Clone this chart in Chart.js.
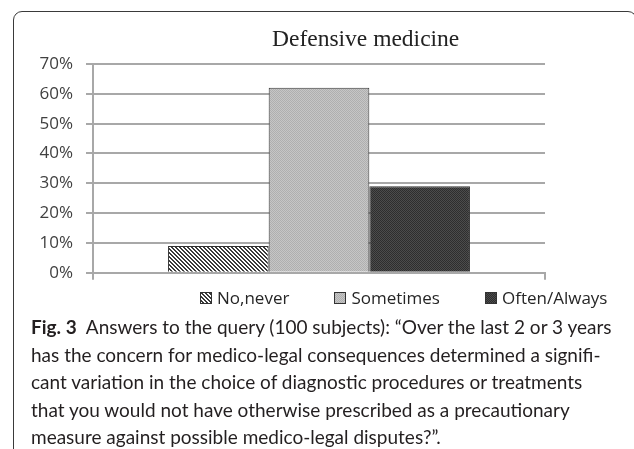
<!DOCTYPE html>
<html>
<head>
<meta charset="utf-8">
<title>Defensive medicine</title>
<script src="https://cdn.jsdelivr.net/npm/chart.js@4"></script>
<style>
    html, body {
        margin: 0;
        padding: 0;
        background: #fff;
        overflow: hidden;
    }
    #page {
        position: relative;
        width: 634px;
        height: 449px;
        overflow: hidden;
    }
    #frame {
        position: absolute;
        left: 13px;
        top: 11px;
        width: 622px;
        height: 500px;
        border: 1.5px solid #3a3a3a;
        border-radius: 9px;
    }
    #chart {
        position: absolute;
        left: 0;
        top: 0;
    }
    #chartTitle {
        position: absolute;
        left: 272px;
        top: 26px;
        font-family: 'Liberation Serif', serif;
        font-size: 23.5px;
        line-height: 24px;
        color: #222;
        white-space: nowrap;
    }
    #legend {
        position: absolute;
        left: 200px;
        top: 288px;
        display: flex;
        gap: 45px;
        font-family: 'Open Sans', sans-serif;
        font-size: 17px;
        line-height: 20px;
        color: #262626;
        white-space: nowrap;
    }
    #legend .item {
        display: flex;
        align-items: center;
    }
    #legend canvas {
        margin-right: 5px;
    }
    #caption {
        position: absolute;
        left: 31px;
        top: 313px;
        font-family: 'Lato', sans-serif;
        font-size: 19px;
        line-height: 27.5px;
        color: #231f20;
        white-space: nowrap;
    }
</style>
</head>
<body>
<div id="page">
    <div id="frame"></div>
    <canvas id="chart" width="634" height="296"></canvas>
    <div id="chartTitle">Defensive medicine</div>
    <div id="legend"></div>
    <div id="caption">
        <div><b>Fig. 3</b>&nbsp; Answers to the query (100 subjects): “Over the last 2 or 3 years</div>
        <div>has the concern for medico-legal consequences determined a signifi-</div>
        <div>cant variation in the choice of diagnostic procedures or treatments</div>
        <div>that you would not have otherwise prescribed as a precautionary</div>
        <div>measure against possible medico-legal disputes?”.</div>
    </div>
</div>

<script>
// Chart data
const categories = [''];
const seriesNames = ['No,never', 'Sometimes', 'Often/Always'];
const seriesValues = [9, 62, 29];
const tickLabels = ['0%', '10%', '20%', '30%', '40%', '50%', '60%', '70%'];
const fillKinds = ['hatch', 'light', 'dark'];

// Small tiles used as bar fills
function makePattern(ctx, kind) {
    const tile = document.createElement('canvas');
    tile.width = 4;
    tile.height = 4;
    const t = tile.getContext('2d');

    if (kind === 'hatch') {
        t.fillStyle = '#ffffff';
        t.fillRect(0, 0, 4, 4);
        t.fillStyle = '#3a3a3a';
        for (let i = 0; i < 4; i++) {
            t.fillRect(i, i, 1, 1);
            t.fillRect((i + 1) % 4, i, 1, 1);
        }
    } else {
        // fine checker texture
        const [a, b] = kind === 'light' ? ['#c6c6c6', '#afafaf'] : ['#4c4c4c', '#2e2e2e'];
        for (let y = 0; y < 4; y++) {
            for (let x = 0; x < 4; x++) {
                t.fillStyle = (x + y) % 2 ? a : b;
                t.fillRect(x, y, 1, 1);
            }
        }
    }
    return ctx.createPattern(tile, 'repeat');
}

// Legend boxes drawn with the same fills as the bars
function buildLegend() {
    const legend = document.getElementById('legend');
    seriesNames.forEach((name, i) => {
        const item = document.createElement('span');
        item.className = 'item';

        const box = document.createElement('canvas');
        box.width = 12;
        box.height = 12;
        const bctx = box.getContext('2d');
        bctx.fillStyle = makePattern(bctx, fillKinds[i]);
        bctx.fillRect(0, 0, 12, 12);
        bctx.strokeStyle = '#333';
        bctx.lineWidth = 1;
        bctx.strokeRect(0.5, 0.5, 11, 11);

        const label = document.createElement('span');
        label.textContent = name;

        item.appendChild(box);
        item.appendChild(label);
        legend.appendChild(item);
    });
}

function initChart() {
    const ctx = document.getElementById('chart').getContext('2d');
    const gridColor = '#a8a8a8';

    return new Chart(ctx, {
        type: 'bar',
        data: {
            labels: categories,
            datasets: seriesNames.map((name, i) => ({
                label: name,
                data: [seriesValues[i]],
                backgroundColor: makePattern(ctx, fillKinds[i]),
                borderColor: '#333',
                borderWidth: 1,
                barPercentage: 1,
                categoryPercentage: 0.668
            }))
        },
        options: {
            responsive: false,
            animation: false,
            layout: {
                padding: { top: 64, right: 89, bottom: 6.5, left: 0 }
            },
            plugins: {
                legend: { display: false },
                title: { display: false },
                tooltip: { enabled: false }
            },
            scales: {
                x: {
                    offset: true,
                    grid: {
                        offset: true,
                        drawOnChartArea: false,
                        tickLength: 7,
                        color: gridColor,
                        lineWidth: 2
                    },
                    border: { display: true, color: gridColor, width: 2 },
                    ticks: { display: false },
                    afterFit: (scale) => { scale.height = 7; }
                },
                y: {
                    min: 0,
                    max: 70,
                    grid: {
                        color: gridColor,
                        lineWidth: 2,
                        tickLength: 7
                    },
                    border: { display: true, color: gridColor, width: 2 },
                    ticks: {
                        stepSize: 10,
                        padding: 13,
                        color: '#404040',
                        font: { family: 'Open Sans', size: 17 },
                        callback: (value, index) => tickLabels[index]
                    },
                    afterFit: (scale) => { scale.width = 93; }
                }
            }
        }
    });
}

document.addEventListener('DOMContentLoaded', () => {
    initChart();
    buildLegend();
});
</script>
</body>
</html>
